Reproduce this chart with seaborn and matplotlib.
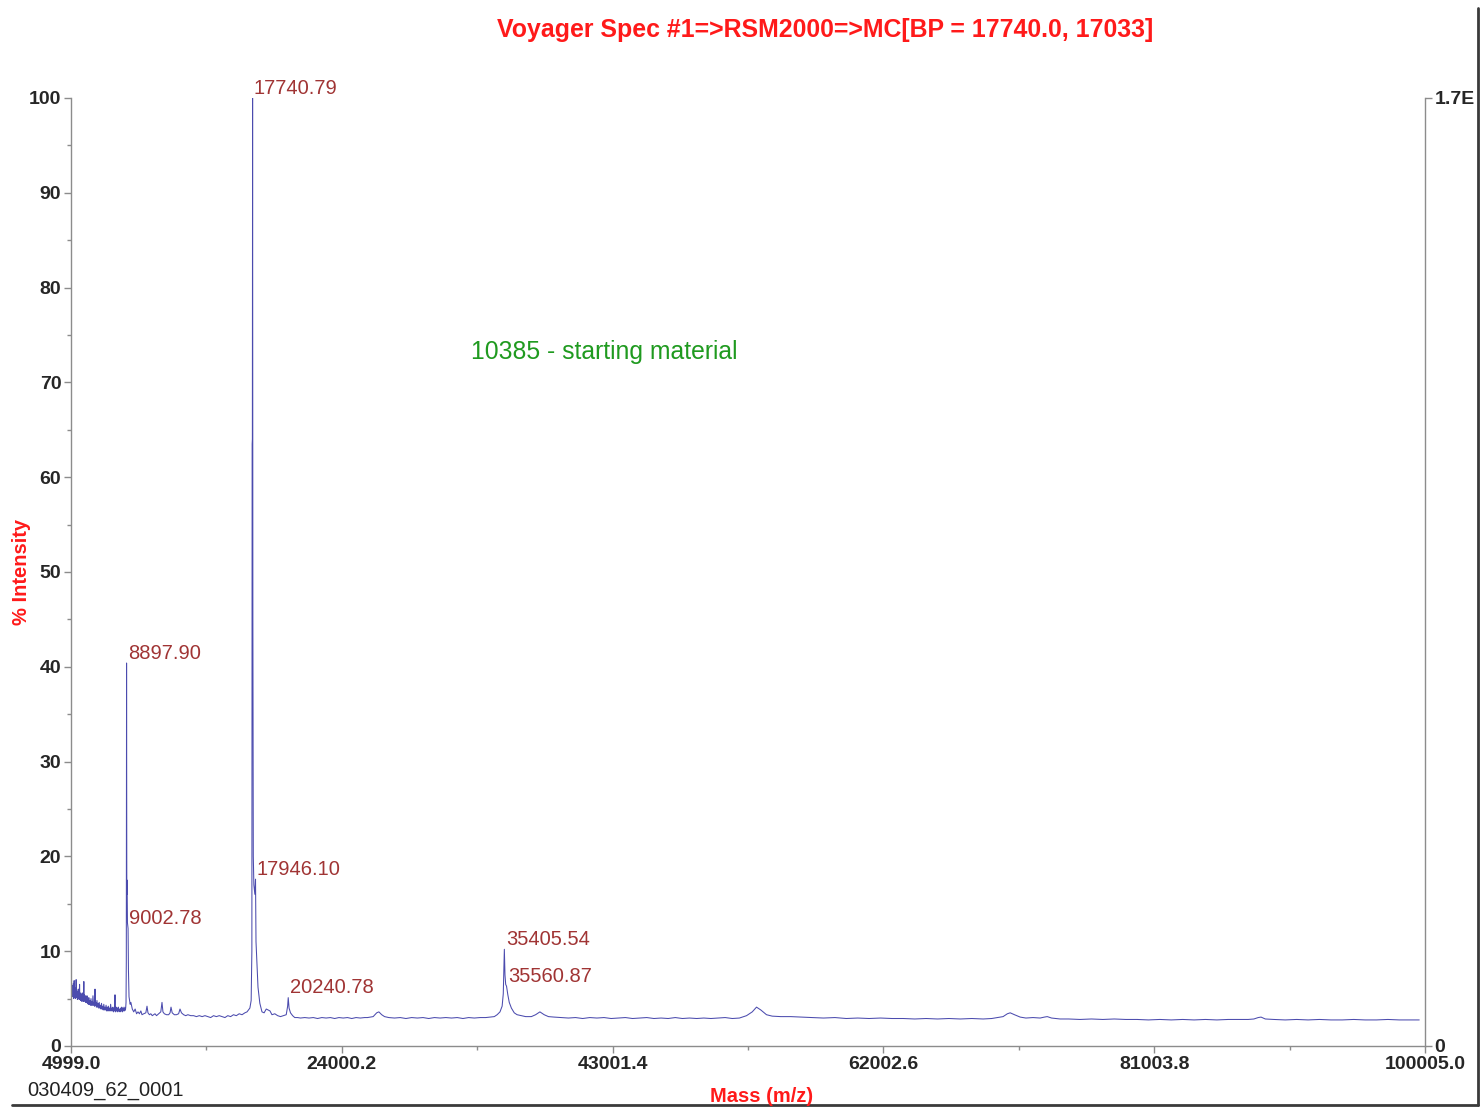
import matplotlib
matplotlib.use("Agg")
import matplotlib.pyplot as plt
from matplotlib.lines import Line2D
import seaborn as sns
import pandas as pd

# espectro (massa em Da, intensidade em %)
mass = [
    5000, 5015, 5030, 5045, 5060, 5075, 5090, 5105, 5120, 5135, 5150, 5165, 5180, 5200, 5220, 5235,
    5250, 5270, 5290, 5305, 5320, 5340, 5360, 5375, 5390, 5410, 5430, 5450, 5470, 5490, 5510, 5530,
    5550, 5575, 5600, 5620, 5640, 5665, 5690, 5715, 5740, 5765, 5790, 5815, 5840, 5870, 5900, 5920,
    5940, 5970, 6000, 6030, 6060, 6090, 6120, 6150, 6180, 6215, 6250, 6285, 6320, 6360, 6400, 6435,
    6470, 6505, 6540, 6580, 6620, 6650, 6683, 6710, 6740, 6780, 6820, 6860, 6900, 6940, 6980, 7020,
    7060, 7100, 7140, 7180, 7220, 7260, 7300, 7340, 7380, 7420, 7460, 7500, 7540, 7580, 7620, 7660,
    7700, 7740, 7780, 7820, 7860, 7900, 7940, 7980, 8020, 8050, 8086, 8110, 8130, 8165, 8200, 8240,
    8280, 8320, 8360, 8400, 8440, 8480, 8520, 8560, 8600, 8640, 8680, 8720, 8760, 8790, 8820, 8840,
    8860, 8880, 8897.9, 8915, 8935, 8960, 9002.78, 9030, 9070, 9150,
    9200, 9300, 9400, 9500, 9600, 9700, 9800, 9900, 9980, 10100, 10250, 10332, 10400, 10500, 10600,
    10700, 10800, 10893, 11000, 11150, 11300, 11384, 11450, 11550, 11700, 11850, 11950, 12016, 12100,
    12250, 12400, 12550, 12647, 12750, 12900, 13050, 13200, 13400, 13600, 13800, 14000, 14200, 14400,
    14600, 14800, 15000, 15200, 15400, 15600, 15800, 16000, 16200, 16400, 16600, 16800, 17000, 17200,
    17350, 17450, 17550, 17640, 17690, 17710, 17725, 17740.79, 17760, 17790, 17830, 17900, 17946.1,
    17980, 18040, 18120, 18250, 18400, 18550, 18700, 18960, 19100, 19300, 19500, 19700, 19900, 20100,
    20200, 20240.78, 20300, 20400, 20550, 20700, 20900, 21100, 21400, 21700, 22000, 22300, 22600,
    22900, 23200, 23500, 23800, 24100, 24400, 24700, 25000, 25300, 25600, 25800, 26200, 26450, 26600,
    26800, 27000, 27300, 27700, 28100, 28500, 28900, 29300, 29700, 30100, 30500, 30900, 31300, 31700,
    32100, 32500, 32900, 33300, 33700, 34100, 34400, 34700, 34900, 35100, 35250, 35330, 35405.54,
    35450, 35500, 35560.87, 35650, 35750, 35900, 36100, 36300, 36600, 36900, 37300, 37600, 37900,
    38200, 38500, 38900, 39400, 39900, 40400, 40900, 41400, 41900, 42400, 42900, 43400, 43900, 44400,
    44900, 45400, 45900, 46400, 46900, 47400, 47900, 48400, 48900, 49400, 49900, 50400, 50900, 51400,
    51900, 52400, 52800, 53100, 53400, 53800, 54200, 54800, 55500, 56200, 57000, 57800, 58600, 59400,
    60200, 61000, 61800, 62600, 63400, 64200, 65000, 65800, 66600, 67400, 68200, 69000, 69600, 70000,
    70400, 70700, 70900, 71200, 71600, 72000, 72500, 73000, 73300, 73500, 73800, 74400, 75000, 75800,
    76600, 77400, 78200, 79000, 79800, 80600, 81400, 82200, 83000, 83800, 84600, 85400, 86200, 87000,
    87600, 88000, 88300, 88500, 88800, 89400, 90200, 91000, 91800, 92600, 93400, 94200, 95000, 95800,
    96600, 97400, 98200, 99000, 99600,
]
intensity = [
    3.2, 5.6, 5.0, 6.0, 5.2, 6.4, 5.5, 6.1, 5.2, 5.9, 5.4, 6.6, 5.0, 5.8, 6.9, 5.3,
    5.9, 5.1, 5.7, 5.0, 6.1, 5.2, 7.0, 5.4, 5.9, 5.1, 5.6, 4.9, 5.7, 5.0, 6.0, 5.1,
    5.5, 4.9, 6.5, 5.0, 5.6, 4.8, 5.5, 4.9, 5.3, 4.7, 5.6, 4.8, 5.2, 4.7, 6.8, 5.0,
    5.4, 4.7, 5.3, 4.6, 5.0, 4.6, 5.3, 4.5, 4.9, 4.4, 5.1, 4.4, 4.8, 4.3, 5.0, 4.3,
    4.7, 4.3, 5.3, 4.3, 4.6, 4.2, 6.0, 4.3, 4.6, 4.1, 4.8, 4.1, 4.5, 4.0, 4.6, 4.0,
    4.3, 3.9, 4.5, 3.9, 4.2, 3.8, 4.4, 3.8, 4.1, 3.8, 4.3, 3.7, 4.1, 3.7, 4.2, 3.7,
    4.0, 3.7, 4.4, 3.7, 4.0, 3.7, 4.1, 3.6, 3.9, 3.7, 5.4, 3.8, 3.6, 4.1, 3.7, 4.0,
    3.6, 4.1, 3.7, 3.9, 3.6, 4.0, 3.7, 4.1, 3.6, 4.0, 3.7, 4.1, 3.7, 4.0, 3.8, 4.1,
    4.6, 9.0, 40.4, 16.0, 17.5, 13.0, 12.4, 8.0, 5.2, 4.4,
    4.6, 3.9, 3.6, 3.9, 3.4, 3.6, 3.4, 3.7, 3.3, 3.4, 3.5, 4.2, 3.5, 3.3, 3.4,
    3.2, 3.3, 3.4, 3.2, 3.4, 3.6, 4.6, 3.6, 3.4, 3.3, 3.3, 3.5, 4.1, 3.5,
    3.3, 3.3, 3.4, 3.9, 3.5, 3.3, 3.2, 3.3, 3.2, 3.2, 3.1, 3.2, 3.1, 3.2,
    3.1, 3.0, 3.2, 3.1, 3.2, 3.1, 3.0, 3.2, 3.1, 3.3, 3.2, 3.4, 3.3, 3.5,
    3.6, 3.8, 4.0, 4.8, 10.0, 63.5, 64.0, 100.0, 45.0, 20.0, 17.0, 16.0, 17.6,
    11.0, 9.0, 6.2, 4.5, 3.6, 3.5, 3.9, 3.7, 3.3, 3.4, 3.2, 3.1, 3.2, 3.3,
    4.2, 5.1, 4.0, 3.5, 3.2, 3.0, 3.0, 2.95, 3.0, 2.95, 3.0, 2.9, 3.0,
    2.95, 3.0, 2.9, 3.0, 2.95, 3.0, 2.9, 3.0, 2.95, 3.0, 3.0, 3.1, 3.5, 3.6,
    3.3, 3.1, 3.0, 2.95, 3.0, 2.9, 3.0, 2.95, 3.0, 2.9, 3.0, 2.95, 3.0, 2.95,
    3.0, 2.9, 3.0, 2.95, 3.0, 3.0, 3.05, 3.1, 3.3, 3.6, 4.2, 5.5, 10.2,
    7.5, 6.5, 6.3, 5.4, 4.6, 4.0, 3.5, 3.3, 3.2, 3.1, 3.1, 3.3, 3.6,
    3.3, 3.1, 3.05, 3.0, 2.95, 3.0, 2.9, 3.0, 2.95, 3.0, 2.9, 2.95, 3.0, 2.9,
    2.95, 3.0, 2.9, 2.95, 2.9, 3.0, 2.9, 2.95, 2.9, 2.95, 2.9, 2.95, 3.0, 2.9,
    2.95, 3.2, 3.6, 4.1, 3.8, 3.3, 3.15, 3.1, 3.1, 3.05, 3.0, 2.95, 3.0, 2.9,
    2.95, 2.9, 2.95, 2.9, 2.9, 2.85, 2.9, 2.85, 2.9, 2.85, 2.9, 2.85, 2.9, 3.0,
    3.1, 3.4, 3.5, 3.3, 3.05, 2.95, 3.0, 2.95, 3.05, 3.1, 2.95, 2.85, 2.85, 2.8,
    2.85, 2.8, 2.85, 2.8, 2.8, 2.75, 2.8, 2.75, 2.8, 2.75, 2.8, 2.75, 2.8, 2.8,
    2.8, 2.85, 3.0, 3.05, 2.85, 2.8, 2.75, 2.8, 2.75, 2.8, 2.75, 2.75, 2.8, 2.75,
    2.75, 2.8, 2.75, 2.75, 2.75,
]

# rotulos dos picos
peak_labels = ["8897.90", "9002.78", "17740.79", "17946.10", "20240.78", "35405.54", "35560.87"]
peak_mass = [8897.90, 9002.78, 17740.79, 17946.10, 20240.78, 35405.54, 35560.87]
peak_height = [40.4, 12.4, 100.0, 17.6, 5.2, 10.2, 6.3]

xticks = [4999.0, 24000.2, 43001.4, 62002.6, 81003.8, 100005.0]

W, H = 1480, 1107

sns.set_style("white")
plt.rcParams["font.family"] = ["Liberation Sans", "DejaVu Sans"]

df = pd.DataFrame({"mass": mass, "intensity": intensity})

fig = plt.figure(figsize=(W / 100, H / 100), dpi=100)
ax = fig.add_axes([71 / W, 1 - 1046 / H, (1425 - 71) / W, (1046 - 98) / H])

sns.lineplot(data=df, x="mass", y="intensity", sort=False, estimator=None,
             color="#4b4bae", linewidth=0.75, ax=ax)

ax.set_xlim(xticks[0], xticks[-1])
ax.set_ylim(0, 100)
ax.set_xlabel("")
ax.set_ylabel("")

grey = "#8c8c8c"
for s in ["left", "bottom", "right"]:
    ax.spines[s].set_visible(True)
    ax.spines[s].set_color(grey)
    ax.spines[s].set_linewidth(1.0)
ax.spines["top"].set_visible(False)

ax.set_xticks(xticks)
ax.set_xticklabels([f"{v:.1f}" for v in xticks])
ax.set_xticks([(a + b) / 2 for a, b in zip(xticks[:-1], xticks[1:])], minor=True)
ax.set_yticks(range(0, 101, 10))
ax.set_yticks(range(5, 100, 10), minor=True)
ax.tick_params(axis="both", which="major", direction="out", length=5, width=1, color=grey,
               labelsize=14, pad=2)
ax.tick_params(axis="both", which="minor", direction="out", length=3, width=1, color=grey)
ax.tick_params(left=True, bottom=True, which="both")
for lab in ax.get_xticklabels() + ax.get_yticklabels():
    lab.set_fontweight("bold")

# eixo da direita (contagens absolutas)
ax2 = ax.twinx()
ax2.set_ylim(0, 100)
ax2.set_yticks([0, 100])
ax2.set_yticklabels(["0", "1.7E"])
ax2.tick_params(axis="y", direction="out", length=5, width=1, color=grey, labelsize=14, pad=2)
for s in ax2.spines.values():
    s.set_visible(False)
for lab in ax2.get_yticklabels():
    lab.set_fontweight("bold")

for lab, m, h in zip(peak_labels, peak_mass, peak_height):
    ax.annotate(lab, xy=(m, h), xytext=(1, 3), textcoords="offset points",
                ha="left", va="baseline", fontsize=14.5, color="#a03434")

fig.text(471 / W, 1 - 352 / H, "10385 - starting material", ha="left", va="center",
         fontsize=17.8, color="#1f9a1f")

fig.text(825 / W, 1 - 30 / H, "Voyager Spec #1=>RSM2000=>MC[BP = 17740.0, 17033]",
         ha="center", va="center", fontsize=17.9, fontweight="bold", color="#ff1a1a")
fig.text(22 / W, 1 - 572 / H, "% Intensity", rotation=90, ha="center", va="center",
         fontsize=14.5, fontweight="bold", color="#ff1a1a")
fig.text(762 / W, 1 - 1096 / H, "Mass (m/z)", ha="center", va="center",
         fontsize=14.5, fontweight="bold", color="#ff1a1a")
fig.text(27 / W, 1 - 1090 / H, "030409_62_0001", ha="left", va="center",
         fontsize=14.5, color="#222222")

# moldura (sombra) inferior e direita
fig.add_artist(Line2D([12 / W, 1478 / W], [1 - 1105 / H, 1 - 1105 / H], color="#3a3a3a", lw=2,
                      transform=fig.transFigure))
fig.add_artist(Line2D([1478 / W, 1478 / W], [1 - 1105 / H, 1 - 8 / H], color="#3a3a3a", lw=2,
                      transform=fig.transFigure))

fig.savefig("out.png", dpi=100)
